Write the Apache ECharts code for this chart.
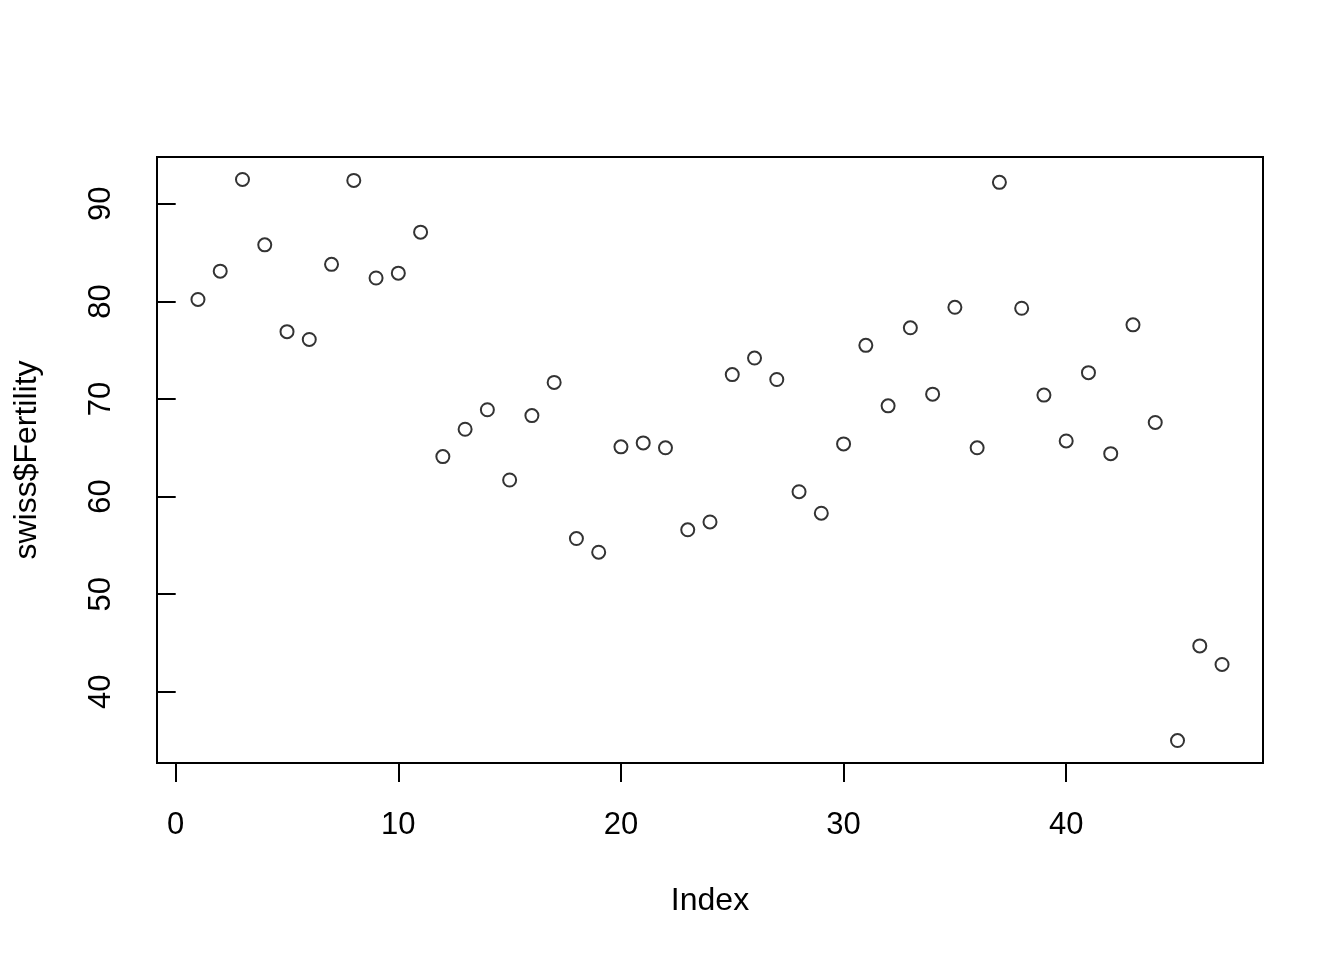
<!DOCTYPE html>
<html><head><meta charset="utf-8">
<script src="https://cdn.jsdelivr.net/npm/echarts@6/dist/echarts.min.js"></script>
<style>html,body{margin:0;padding:0;background:#fff}#c{width:1344px;height:960px}</style>
</head><body><div id="c"></div>
<script>
const fertility = [80.2, 83.1, 92.5, 85.8, 76.9, 76.1, 83.8, 92.4, 82.4, 82.9, 87.1, 64.1, 66.9, 68.9, 61.7, 68.3, 71.7, 55.7, 54.3, 65.1, 65.5, 65.0, 56.6, 57.4, 72.5, 74.2, 72.0, 60.5, 58.3, 65.4, 75.5, 69.3, 77.3, 70.5, 79.4, 65.0, 92.2, 79.3, 70.4, 65.7, 72.7, 64.4, 77.6, 67.6, 35.0, 44.7, 42.8];
const xTicks = [0, 10, 20, 30, 40];
const yTicks = [40, 50, 60, 70, 80, 90];
const xLabel = 'Index';
const yLabel = 'swiss$Fertility';

const points = fertility.map((v, i) => [i + 1, v]);
const n = fertility.length;
const xr = (n - 1) * 0.04;
const ymin = Math.min(...fertility), ymax = Math.max(...fertility);
const yr = (ymax - ymin) * 0.04;
const font = 'Liberation Sans, Arial, sans-serif';

const chart = echarts.init(document.getElementById('c'), null, {renderer: 'canvas'});
chart.setOption({
  animation: false,
  backgroundColor: '#fff',
  grid: {left: 157, right: 81, top: 157, bottom: 197, show: true, borderColor: '#000', borderWidth: 2, backgroundColor: 'transparent'},
  xAxis: {
    type: 'value', min: 1 - xr, max: n + xr,
    name: xLabel, nameLocation: 'middle', nameGap: 122,
    nameTextStyle: {fontFamily: font, fontSize: 32, color: '#000'},
    axisLine: {show: false},
    axisTick: {show: true, customValues: xTicks, length: 19, lineStyle: {color: '#000', width: 2}},
    axisLabel: {customValues: xTicks, fontFamily: font, fontSize: 31, color: '#000', margin: 47},
    splitLine: {show: false}
  },
  yAxis: {
    type: 'value', min: ymin - yr, max: ymax + yr,
    name: yLabel, nameLocation: 'middle', nameGap: 114, nameRotate: 90,
    nameTextStyle: {fontFamily: font, fontSize: 32, color: '#000'},
    axisLine: {show: false},
    axisTick: {show: true, customValues: yTicks, length: 19, lineStyle: {color: '#000', width: 2}},
    axisLabel: {customValues: yTicks, rotate: 90, fontFamily: font, fontSize: 31, color: '#000', margin: 40},
    splitLine: {show: false}
  },
  series: [{
    type: 'scatter', data: points, symbol: 'circle', symbolSize: 13,
    itemStyle: {color: 'transparent', borderColor: '#000', borderWidth: 2},
    emphasis: {disabled: true}
  }]
});
</script></body></html>
